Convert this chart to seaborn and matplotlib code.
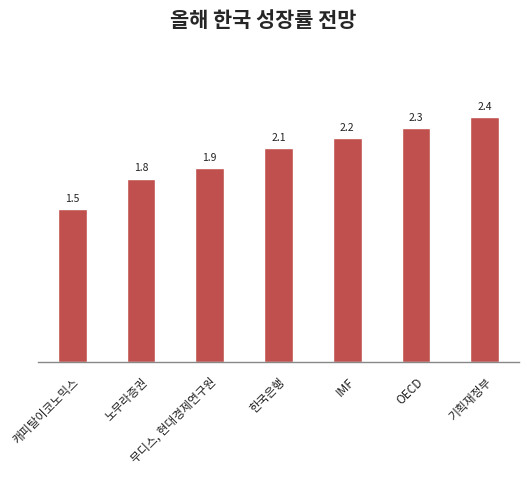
import matplotlib
matplotlib.use("Agg")
import matplotlib.pyplot as plt
import seaborn as sns

institutions = ["캐피탈이코노믹스", "노무라증권", "무디스, 현대경제연구원", "한국은행", "IMF", "OECD", "기획재정부"]
growth = [1.5, 1.8, 1.9, 2.1, 2.2, 2.3, 2.4]
value_labels = ["1.5", "1.8", "1.9", "2.1", "2.2", "2.3", "2.4"]

sns.set_style("white")
plt.rcParams["font.family"] = ["Noto Sans CJK KR", "DejaVu Sans"]

fig = plt.figure(figsize=(5.27, 4.81), dpi=100)
ax = fig.add_axes([0.072, 0.245, 0.913, 0.636])

sns.barplot(x=institutions, y=growth, color="#C0504D", saturation=1, width=0.42, ax=ax)

for i, (v, lab) in enumerate(zip(growth, value_labels)):
    ax.text(i, v + 0.06, lab, ha="center", va="bottom", fontsize=7.5, color="#222222")

ax.set_ylim(0, 3)
ax.set_yticks([])
ax.set_xlim(-0.5, 6.5)
for side in ["top", "right", "left"]:
    ax.spines[side].set_visible(False)
ax.spines["bottom"].set_color("#888888")
ax.spines["bottom"].set_linewidth(1)
ax.tick_params(axis="x", length=0, pad=9)
plt.setp(ax.get_xticklabels(), rotation=45, ha="right", rotation_mode="anchor", fontsize=8.5, color="#222222")

fig.suptitle("올해 한국 성장률 전망", fontsize=15, fontweight="bold", y=0.98)

fig.savefig("out.png", dpi=100)
